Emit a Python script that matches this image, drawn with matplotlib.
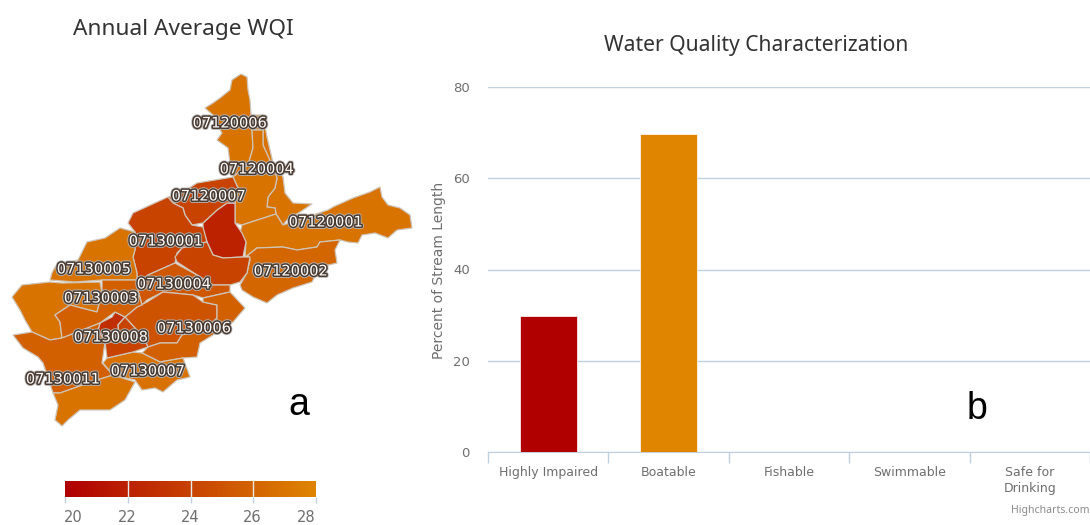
#!/usr/bin/env python3
import matplotlib

matplotlib.use("Agg")
import matplotlib.pyplot as plt
import numpy as np
from matplotlib.colors import LinearSegmentedColormap, Normalize
import matplotlib.patheffects as pe
from matplotlib.patches import Polygon

# bar chart
categories = ["Highly Impaired", "Boatable", "Fishable", "Swimmable", "Safe for\nDrinking"]
percent_values = [29.8, 69.8, 0, 0, 0]
bar_colors = ["#B00000", "#DF8500", "#DF8500", "#DF8500", "#DF8500"]
y_ticks = [0, 20, 40, 60, 80]

# colour scale
wqi_ticks = [20, 22, 24, 26, 28]
wqi_cmap = LinearSegmentedColormap.from_list("wqi", ["#B00000", "#DF8500"])
wqi_norm = Normalize(20, 28)

# map: outlines (image pixels), with the WQI of each unit
unit_north = [(241, 74), (232, 80), (230, 90), (220, 98), (213, 103), (205, 108), (213, 115), (217, 125),
              (222, 133), (217, 140), (228, 148), (230, 163), (233, 177), (248, 165), (253, 148), (252, 130),
              (251, 115), (250, 100), (248, 90), (247, 77)]
unit_strip = [(251, 115), (263, 115), (267, 137), (273, 163), (283, 177), (285, 193), (293, 203), (312, 204),
              (300, 212), (287, 220), (283, 225), (276, 214), (275, 208), (267, 207), (268, 197), (275, 188),
              (277, 178), (272, 165), (263, 145), (263, 130), (252, 130)]
unit_center = [(252, 130), (263, 130), (263, 145), (272, 165), (277, 178), (275, 188), (268, 197), (267, 207),
               (275, 208), (276, 214), (242, 225), (235, 223), (235, 203), (238, 188), (233, 177), (248, 165),
               (253, 148)]
unit_east = [(242, 225), (276, 214), (283, 225), (328, 210), (333, 207), (353, 198), (370, 192), (380, 187),
             (382, 197), (388, 205), (400, 208), (410, 215), (412, 228), (397, 230), (388, 238), (375, 233),
             (362, 235), (358, 243), (348, 242), (340, 240), (320, 242), (317, 247), (297, 250), (283, 247),
             (257, 248), (248, 255), (245, 257), (246, 242), (240, 233)]
unit_southeast = [(257, 248), (283, 247), (297, 250), (317, 247), (320, 242), (340, 240), (335, 250), (337, 263),
                  (320, 267), (312, 282), (293, 288), (277, 295), (267, 303), (253, 297), (242, 290), (240, 285),
                  (247, 273), (250, 260), (248, 255)]
unit_dark = [(203, 223), (217, 210), (227, 203), (235, 203), (235, 223), (242, 233), (246, 242), (243, 257),
             (223, 258), (213, 255), (207, 242), (203, 230)]
unit_7 = [(197, 183), (233, 177), (238, 188), (235, 203), (227, 203), (217, 210), (203, 223), (192, 225),
          (185, 215), (183, 208), (173, 203), (168, 197), (183, 192)]
unit_1 = [(168, 197), (173, 203), (183, 208), (185, 215), (192, 225), (203, 227), (207, 242), (182, 248),
          (177, 253), (175, 263), (148, 275), (137, 287), (137, 273), (133, 257), (135, 250), (135, 232),
          (128, 223), (133, 213), (157, 202)]
unit_4 = [(175, 257), (182, 248), (207, 242), (213, 255), (223, 258), (243, 257), (250, 257), (247, 273),
          (240, 282), (230, 285), (213, 285), (197, 275), (177, 262)]
unit_4b = [(148, 275), (175, 263), (197, 275), (213, 285), (230, 285), (230, 292), (203, 298), (193, 295),
           (163, 292), (147, 300), (142, 305), (137, 287)]
unit_6 = [(163, 292), (193, 295), (203, 302), (217, 305), (217, 318), (207, 328), (182, 335), (177, 343),
          (160, 343), (148, 347), (143, 337), (125, 317), (137, 307), (147, 302)]
unit_6b = [(203, 298), (230, 292), (245, 308), (233, 322), (213, 335), (200, 343), (197, 357), (183, 358),
           (160, 362), (142, 353), (148, 347), (160, 343), (177, 343), (182, 335), (207, 328), (217, 318),
           (217, 305), (203, 302)]
unit_7b = [(142, 353), (160, 362), (183, 358), (190, 377), (177, 380), (163, 392), (155, 388), (142, 390),
           (135, 380), (113, 375), (103, 363), (107, 358), (133, 352)]
unit_8 = [(115, 312), (125, 317), (118, 325), (120, 342), (105, 342), (98, 330), (100, 323), (112, 317)]
unit_8b = [(118, 325), (125, 317), (143, 337), (148, 347), (133, 352), (107, 358), (105, 342), (120, 342)]
unit_5 = [(87, 242), (105, 238), (120, 228), (135, 232), (135, 250), (133, 257), (137, 273), (137, 280),
          (102, 280), (75, 282), (50, 280), (52, 273), (55, 267), (78, 260)]
unit_3 = [(12, 297), (22, 285), (50, 282), (62, 283), (100, 282), (102, 293), (97, 312), (70, 305), (55, 315),
          (60, 322), (62, 338), (50, 340), (32, 332), (25, 320), (20, 310)]
unit_3b = [(102, 280), (137, 280), (137, 287), (142, 305), (137, 307), (125, 317), (115, 312), (100, 323),
           (75, 333), (62, 338), (60, 322), (55, 315), (70, 305), (97, 312), (102, 293)]
unit_11 = [(13, 335), (32, 332), (50, 340), (62, 338), (75, 333), (100, 323), (98, 330), (105, 342), (102, 363),
           (113, 375), (97, 380), (60, 393), (53, 393), (43, 363), (38, 357), (23, 348)]
unit_south = [(53, 393), (60, 393), (97, 380), (113, 375), (135, 382), (125, 400), (110, 410), (80, 410),
              (68, 420), (62, 426), (55, 420), (58, 405)]

map_units = [unit_north, unit_strip, unit_center, unit_east, unit_southeast, unit_dark, unit_7, unit_1, unit_4,
             unit_4b, unit_6, unit_6b, unit_7b, unit_8, unit_8b, unit_5, unit_3, unit_3b, unit_11, unit_south]
map_wqi = [26.9, 26.9, 26.9, 26.9, 26.1, 22.0, 24.0, 24.0, 24.0, 25.2, 25.0, 25.8, 26.8, 22.8, 24.0, 26.9, 26.9,
           25.8, 25.8, 26.9]

huc_names = ["07120006", "07120004", "07120007", "07120001", "07130001", "07120002", "07130005", "07130003",
             "07130004", "07130006", "07130008", "07130007", "07130011"]
huc_x = [230, 257, 209, 326, 166, 291, 94, 101, 174, 194, 111, 148, 63]
huc_y = [123, 169, 196, 222, 241, 271, 269, 298, 284, 328, 337, 371, 379]

title_font = "Noto Sans"
label_font = "DejaVu Sans"
W, H = 1090, 525

fig = plt.figure(figsize=(W / 100, H / 100), dpi=100)

# page axes in image pixels, holds the map and loose text
page = fig.add_axes([0, 0, 1, 1])
page.set_xlim(0, W)
page.set_ylim(H, 0)
page.axis("off")

for unit, value in zip(map_units, map_wqi):
    page.add_patch(Polygon(unit, closed=True, facecolor=wqi_cmap(wqi_norm(value)), edgecolor="#CFC4B8",
                           linewidth=0.9, joinstyle="round"))

for name, x, y in zip(huc_names, huc_x, huc_y):
    page.text(x, y, name, ha="center", va="center", color="white", fontsize=10.5, family=label_font,
              path_effects=[pe.withStroke(linewidth=3.4, foreground="#B8B8B8"),
                            pe.withStroke(linewidth=2.2, foreground="#4A3A30")], zorder=5)

page.text(183.5, 29, "Annual Average WQI", ha="center", va="center", fontsize=16.3, color="#333333", family=title_font)
page.text(756, 45, "Water Quality Characterization", ha="center", va="center", fontsize=15.2, color="#333333",
          family=title_font)
page.text(299, 405, "a", ha="center", va="center", fontsize=27, color="black", family="Liberation Sans")
page.text(977, 409, "b", ha="center", va="center", fontsize=27, color="black", family="Liberation Sans")
page.text(1090, 510, "Highcharts.com", ha="right", va="center", fontsize=7.6, color="#8A8A8A", family=title_font)
page.text(439, 270, "Percent of Stream Length", ha="center", va="center", rotation=90, fontsize=10, color="#6E6E6E",
          family=label_font)

# colour scale
cax = fig.add_axes([65 / W, 1 - 497 / H, 251 / W, 16 / H])
cax.imshow(np.linspace(20, 28, 256).reshape(1, -1), cmap=wqi_cmap, norm=wqi_norm, aspect="auto",
           extent=[20, 28, 0, 1])
for tick in wqi_ticks[1:-1]:
    cax.axvline(tick, color="#E8E8E8", linewidth=1)
cax.set_xticks(wqi_ticks)
cax.set_xticklabels([])
cax.set_yticks([])
cax.tick_params(axis="x", length=4, width=1, color="#C0D0E0")
for spine in cax.spines.values():
    spine.set_visible(False)
for tick, x in zip(wqi_ticks, [73, 127, 190, 252, 306]):
    page.text(x, 518, str(tick), ha="center", va="center", fontsize=10.5, color="#6E6E6E", family=label_font)

# bar chart
ax = fig.add_axes([488 / W, 1 - 452 / H, 602 / W, 365 / H])
ax.bar(range(len(categories)), percent_values, width=0.475, color=bar_colors, edgecolor="white", linewidth=0.5,
       zorder=3)
ax.set_xlim(-0.5, len(categories) - 0.5)
ax.set_ylim(0, 80)
ax.set_yticks(y_ticks)
ax.set_yticklabels([str(t) for t in y_ticks], fontsize=9.5, color="#6E6E6E", family=label_font)
ax.grid(axis="y", color="#C0D0E0", linewidth=1, zorder=0)
ax.set_xticks(np.arange(len(categories) + 1) - 0.5)
ax.set_xticklabels([])
ax.set_xticks(range(len(categories)), minor=True)
ax.set_xticklabels(categories, minor=True, fontsize=9, color="#6E6E6E", family=label_font, linespacing=1.3)
ax.tick_params(axis="x", which="major", length=8, color="#C0D0E0", width=1)
ax.tick_params(axis="x", which="minor", length=0, pad=10)
ax.tick_params(axis="y", length=0, pad=13)
for side in ["top", "left", "right"]:
    ax.spines[side].set_visible(False)
ax.spines["bottom"].set_color("#C0D0E0")
ax.patch.set_alpha(0)

fig.savefig("out.png", dpi=100)
